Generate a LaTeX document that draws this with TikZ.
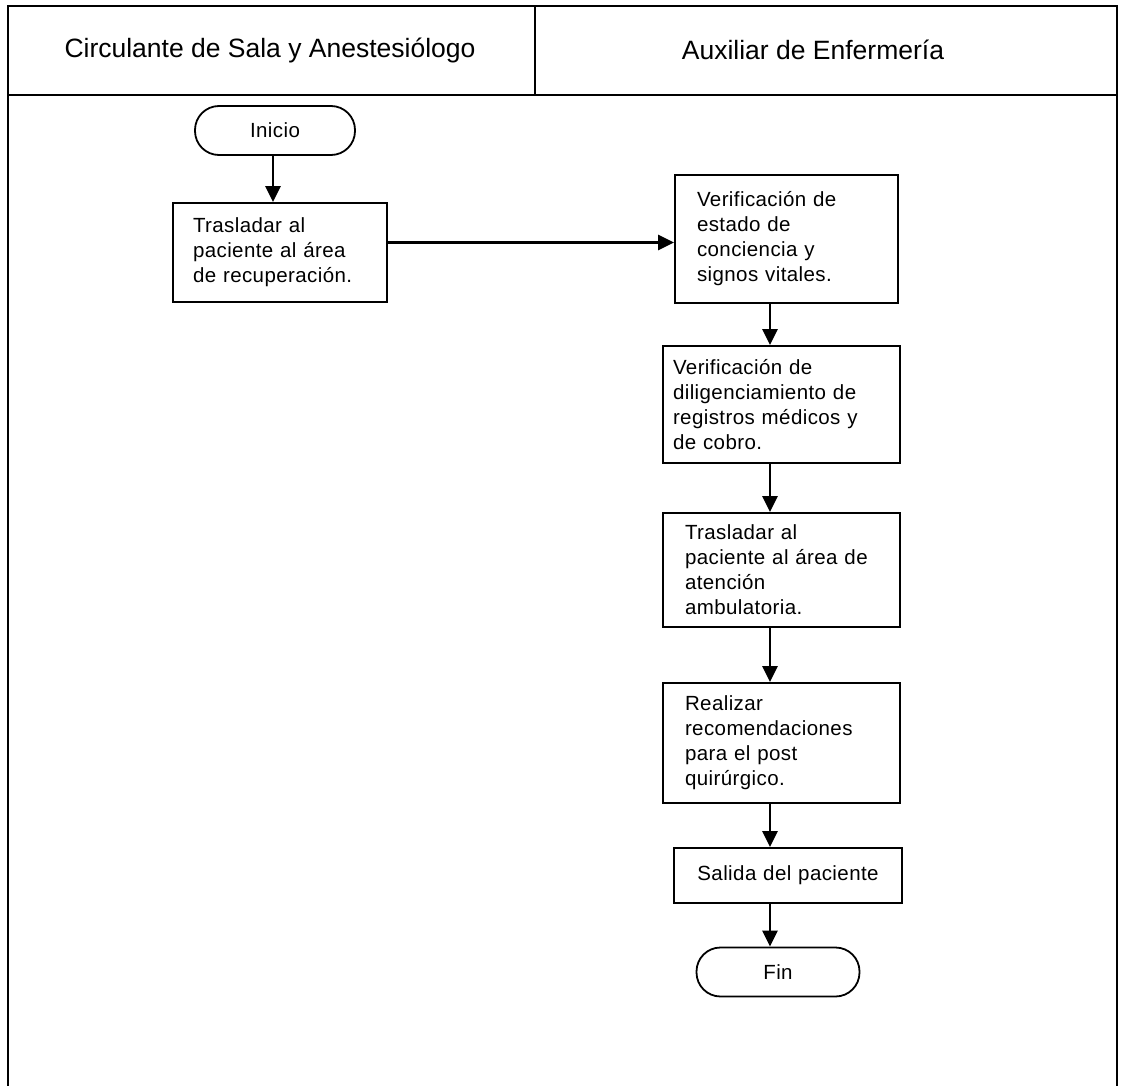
\documentclass[tikz,border=0pt]{standalone}
\usepackage{fontspec}
\setmainfont{Liberation Sans}
\newfontfamily\boxfont[LetterSpace=2]{Liberation Sans}
\usetikzlibrary{arrows.meta}
\begin{document}
\begin{tikzpicture}[x=1pt,y=-1pt,
  frame/.style={line width=2.5pt},
  body/.style={font=\boxfont\fontsize{20.5}{25}\selectfont},
  stepbox/.style={draw, line width=1.8pt, inner ysep=0pt, align=left, body},
  term/.style={draw, line width=1.8pt, rounded corners=24pt, minimum width=160pt, minimum height=49pt, inner sep=0pt, body},
  flow/.style={line width=2.6pt, -{Triangle[length=16pt,width=15pt]}},
  hdr/.style={font=\fontsize{26.5}{30}\selectfont}]
\useasboundingbox (0,0) rectangle (1121,1086);
\fill[white] (0,0) rectangle (1121,1086);

% swimlane frame and headers
\draw[frame] (8,1086) -- (8,6) -- (1117,6) -- (1117,1086);
\draw[frame] (8,95) -- (1117,95);
\draw[frame] (535,6) -- (535,95);
\node[hdr] (h1) at (270,50) {Circulante de Sala y Anestesiólogo};
\node[hdr] (h2) at (813,50) {Auxiliar de Enfermería};

% flow nodes
\node[term] (ini) at (275,130.5) {Inicio};
\node[stepbox, text width=174pt, inner xsep=20pt, minimum height=99pt] (b1) at (280,252.5)
  {Trasladar al\\paciente al área\\de recuperación.};
\node[stepbox, text width=179pt, inner xsep=22pt, minimum height=128pt] (b2) at (786.5,239)
  {Verificación de\\estado de\\conciencia y\\signos vitales.};
\node[stepbox, text width=217pt, inner xsep=10pt, minimum height=117pt] (b3) at (781.5,404.5)
  {Verificación de\\diligenciamiento de\\registros médicos y\\de cobro.};
\node[stepbox, text width=193pt, inner xsep=22pt, minimum height=114pt] (b4) at (781.5,570)
  {Trasladar al\\paciente al área de\\atención\\ambulatoria.};
\node[stepbox, text width=193pt, inner xsep=22pt, minimum height=120pt] (b5) at (781.5,743)
  {Realizar\\recomendaciones\\para el post\\quirúrgico.};
\node[stepbox, align=center, text width=228pt, inner xsep=0pt, minimum height=55pt] (b6) at (788,875.5)
  {Salida del paciente};
\node[term, minimum width=163pt] (fin) at (778,972) {Fin};

% connector guides
\coordinate (axL) at (273,0);
\coordinate (axR) at (770,0);
\coordinate (ay) at (0,242.5);

\draw[flow] (ini.south -| axL) -- (b1.north -| axL);
\draw[flow] (b1.east |- ay) -- (b2.west |- ay);
\draw[flow] (b2.south -| axR) -- (b3.north -| axR);
\draw[flow] (b3.south -| axR) -- (b4.north -| axR);
\draw[flow] (b4.south -| axR) -- (b5.north -| axR);
\draw[flow] (b5.south -| axR) -- (b6.north -| axR);
\draw[flow] (b6.south -| axR) -- (fin.north -| axR);
\end{tikzpicture}
\end{document}
